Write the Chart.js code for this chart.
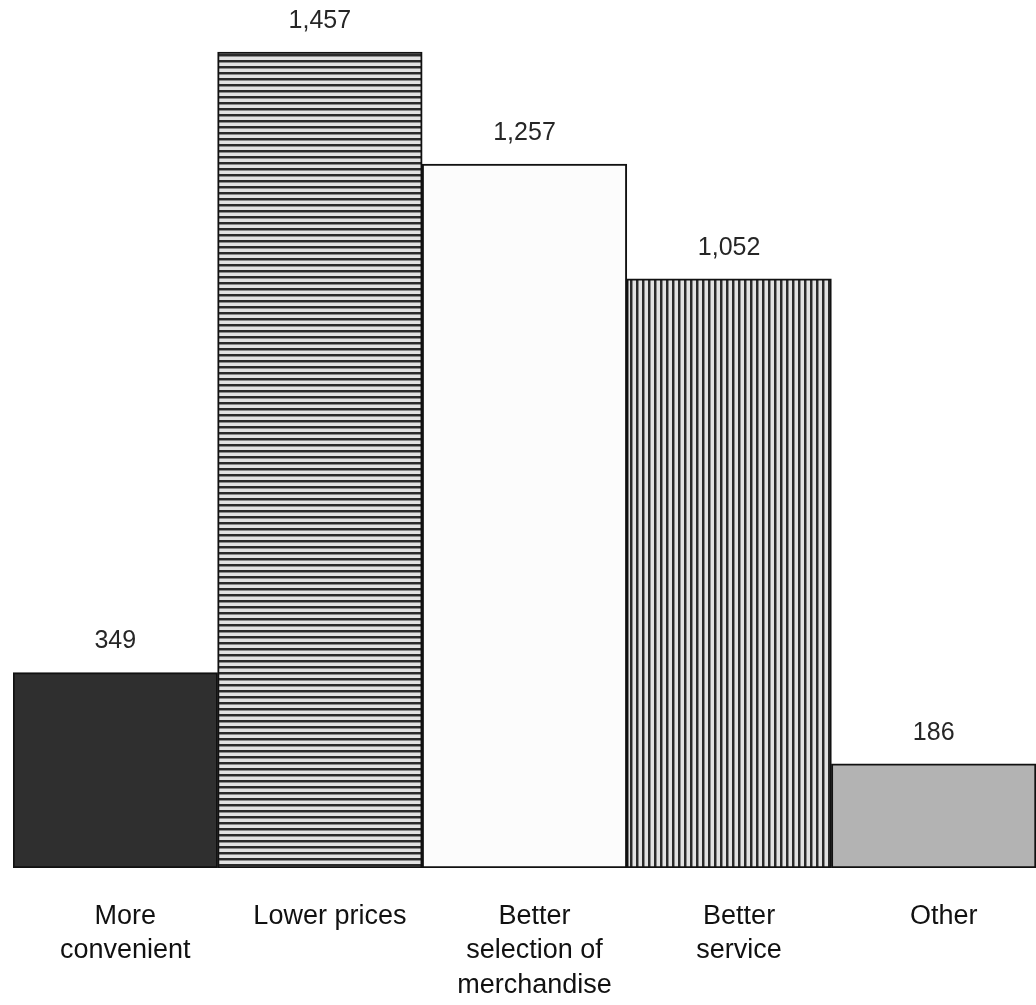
<!DOCTYPE html>
<html>
<head>
<meta charset="utf-8">
<script src="https://cdn.jsdelivr.net/npm/chart.js@4/dist/chart.umd.min.js"></script>
<style>
  html, body { margin: 0; padding: 0; background: #fff; }
  #wrap { width: 1036px; height: 1005px; }
</style>
</head>
<body>
<div id="wrap"><canvas id="grafica"></canvas></div>
<script>
const categorias = [
    ['More', 'convenient'],
    ['Lower prices'],
    ['Better', 'selection of', 'merchandise'],
    ['Better', 'service'],
    ['Other']
];
const valores = [349, 1457, 1257, 1052, 186];
const yMax = 1550;

// rayas para las barras con trama
function rayas(horizontal) {
    const c = document.createElement('canvas');
    c.width = 6; c.height = 6;
    const x = c.getContext('2d');
    x.fillStyle = '#e2e2e2';
    x.fillRect(0, 0, 6, 6);
    x.fillStyle = '#8a8a8a';
    if (horizontal) x.fillRect(0, 0, 6, 3);
    else x.fillRect(0, 0, 3, 6);
    x.fillStyle = '#2a2a2a';
    if (horizontal) x.fillRect(0, 0, 6, 2);
    else x.fillRect(0, 0, 2, 6);
    return x.createPattern(c, 'repeat');
}

const ctx = document.getElementById('grafica').getContext('2d');

const etiquetas = {
    id: 'etiquetas',
    afterDatasetsDraw(chart) {
        const c = chart.ctx;
        const meta = chart.getDatasetMeta(0);
        c.save();
        c.font = '25px "Liberation Sans", Arial, sans-serif';
        c.fillStyle = '#262626';
        c.textAlign = 'center';
        c.textBaseline = 'middle';
        meta.data.forEach((bar, i) => {
            c.fillText(valores[i].toLocaleString('en-US'), bar.x, bar.y - 31);
        });
        c.restore();
    }
};

new Chart(ctx, {
    type: 'bar',
    data: {
        labels: categorias,
        datasets: [{
            data: valores,
            backgroundColor: ['#2f2f2f', rayas(true), '#fcfcfc', rayas(false), '#b3b3b3'],
            borderColor: '#111',
            borderWidth: 2,
            borderSkipped: false,
            barPercentage: 1,
            categoryPercentage: 1
        }]
    },
    options: {
        responsive: true,
        maintainAspectRatio: false,
        animation: false,
        layout: { padding: { left: 13, right: 0, top: 0, bottom: 3 } },
        plugins: {
            legend: { display: false },
            tooltip: { enabled: false }
        },
        scales: {
            x: {
                afterFit(scale) { scale.height = 134; },
                grid: { display: false, drawTicks: false },
                border: { display: false },
                ticks: {
                    color: '#111',
                    padding: 32,
                    labelOffset: 10,
                    maxRotation: 0,
                    autoSkip: false,
                    font: { family: '"Liberation Sans", Arial, sans-serif', size: 27, lineHeight: 1.26 }
                }
            },
            y: {
                display: false,
                min: 0,
                max: yMax
            }
        }
    },
    plugins: [etiquetas]
});
</script>
</body>
</html>
